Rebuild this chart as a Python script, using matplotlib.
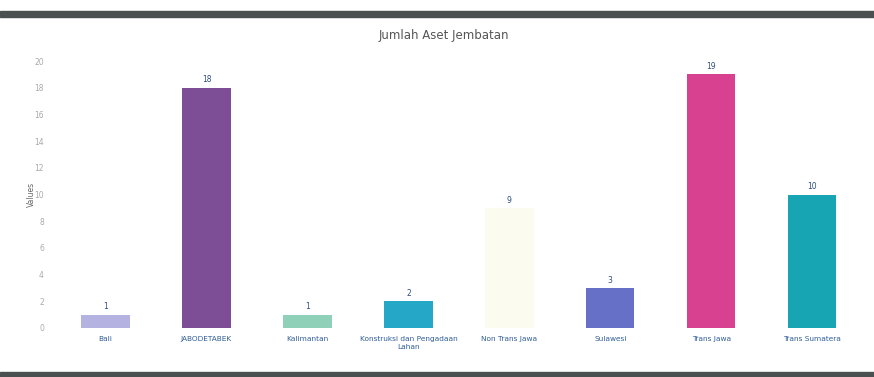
import matplotlib
matplotlib.use("Agg")
import matplotlib.pyplot as plt
from matplotlib.patches import Rectangle

categories = ["Bali", "JABODETABEK", "Kalimantan", "Konstruksi dan Pengadaan\nLahan",
              "Non Trans Jawa", "Sulawesi", "Trans Jawa", "Trans Sumatera"]
values = [1, 18, 1, 2, 9, 3, 19, 10]
colors = ["#b4b2e0", "#7d4e95", "#8fd0b8", "#25a8c8", "#fbfbef", "#6670c6", "#d8418f", "#17a4b3"]
yticks = list(range(0, 21, 2))

fig = plt.figure(figsize=(8.74, 3.77), dpi=100)
fig.patch.set_facecolor("white")

# scan border bands
fig.add_artist(Rectangle((0, 1 - 17/377), 1, 6/377, transform=fig.transFigure,
                         color="#4a4f4f", zorder=0))
fig.add_artist(Rectangle((0, 0), 1, 5/377, transform=fig.transFigure,
                         color="#4a4f4f", zorder=0))

ax = fig.add_axes([0.063, 0.130, 0.924, 0.708])
x = list(range(len(categories)))
ax.bar(x, values, width=0.48, color=colors, zorder=2)
for xi, v in zip(x, values):
    ax.text(xi, v + 0.25, str(v), ha="center", va="bottom", fontsize=5.5, color="#2d4d80")

ax.set_xlim(-0.5, len(categories) - 0.5)
ax.set_ylim(0, 20)
ax.set_yticks(yticks)
ax.set_yticklabels([str(t) for t in yticks], fontsize=5.5, color="#aaaaaa")
ax.set_xticks(x)
ax.set_xticklabels(categories, fontsize=5.3, color="#2f5d9a", linespacing=1.3)
ax.tick_params(axis="both", length=0, pad=6)
ax.tick_params(axis="y", pad=8)
for s in ax.spines.values():
    s.set_visible(False)
ax.set_ylabel("Values", fontsize=5.5, color="#666666", labelpad=-1)

fig.text(0.508, 0.905, "Jumlah Aset Jembatan", ha="center", va="center",
         fontsize=8.5, color="#555555")

fig.savefig("out.png", dpi=100, facecolor="white")
